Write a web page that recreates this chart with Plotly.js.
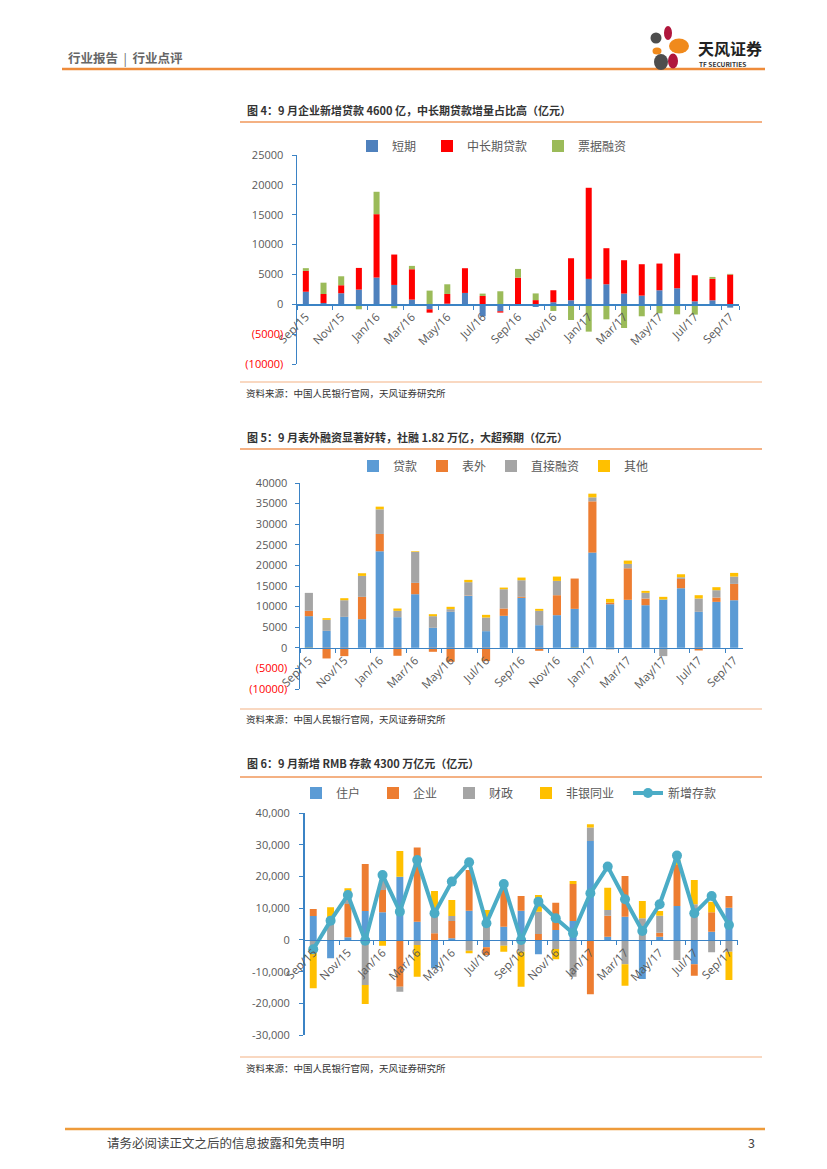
<!DOCTYPE html>
<html>
<head>
<meta charset="utf-8">
<script src="https://cdn.plot.ly/plotly-3.0.1.min.js"></script>
<style>
html,body{margin:0;padding:0;background:#fff;}
#page{width:827px;height:1169px;}
</style>
</head>
<body>
<div id="page"></div>
<script>
// ---------- DATA ----------
const months = ["Sep/15","Oct/15","Nov/15","Dec/15","Jan/16","Feb/16","Mar/16","Apr/16","May/16","Jun/16","Jul/16","Aug/16",
  "Sep/16","Oct/16","Nov/16","Dec/16","Jan/17","Feb/17","Mar/17","Apr/17","May/17","Jun/17","Jul/17","Aug/17","Sep/17"];
const monthTicks = months.filter((m, i) => i % 2 === 0);

// Figure 4: corporate new loans (亿元)
const loanShort = [2100, 220, 1850, 2460, 4470, 3240, 780, -840, 100, 1900, -2010, -1170, 50, -450, 340, 670, 4250, 3350, 1790, 1450, 2350, 2680, 500, 670, -560];
const loanMidLong = [3500, 1500, 1340, 3630, 10620, 5090, 5090, -560, 1630, 4140, 1400, -220, 4420, 700, 2010, 7040, 15260, 6040, 5590, 5260, 4470, 5820, 4360, 3580, 4980];
const loanBill = [450, 1900, 1500, -840, 3750, -670, 560, 2290, 1620, 0, 390, 2180, 1450, 1120, -1120, -2630, -4580, -2520, -3970, -2010, -1510, -1680, -1730, 330, 110];
const fig4Ticks = [25000, 20000, 15000, 10000, 5000, 0, -5000, -10000];
const fig4TickText = ["25000", "20000", "15000", "10000", "5000", "0", "(5000)", "(10000)"];

// Figure 5: total social financing (亿元)
const tsfLoans = [7680, 4120, 7510, 6950, 23430, 7430, 13010, 4850, 8730, 12600, 4040, 7760, 12120, 5490, 7920, 9450, 23110, 10580, 11640, 10340, 11720, 14460, 8730, 11150, 11550];
const tsfOffBS = [1290, -2590, -2020, 5410, 4200, -1940, 2750, -970, -3390, 100, -3230, 1780, 240, -730, 4850, 7360, 12440, 400, 7670, 1620, 0, 2260, -650, 1050, 3960];
const tsfDirect = [4360, 2670, 4040, 5090, 5980, 1540, 7510, 2830, 650, 3230, 3310, 4680, 4040, 3480, 3470, 0, 970, -400, 1050, 1370, -2020, 400, 3230, 1780, 1780];
const tsfOther = [-200, 400, 490, 650, 650, 570, 160, 480, 570, 560, 650, 400, 650, 480, 1050, -250, 890, 890, 810, 490, 650, 730, 810, 730, 890];
const fig5Ticks = [40000, 35000, 30000, 25000, 20000, 15000, 10000, 5000, 0, -5000, -10000];
const fig5TickText = ["40000", "35000", "30000", "25000", "20000", "15000", "10000", "5000", "0", "(5000)", "(10000)"];

// Figure 6: new RMB deposits (亿元)
const depHouse = [7580, -5790, 840, 9160, 8740, 20000, 5790, -8950, 530, 9270, -2320, 4210, 9270, -4530, 3160, 6000, 31270, 1050, 7370, -12320, 1050, 10740, -7690, 2630, 10210];
const depCorp = [2210, 0, 10530, 14850, 7050, -14740, 23380, 2110, 5470, 12850, -2420, 12110, 4630, 1900, 8630, 11690, -17160, 6630, 12850, 0, 1260, 12950, -3580, 6110, 3690];
const depFiscal = [-2630, 5260, 3690, -14220, 3160, -1580, -1580, 5790, 1580, -3370, 6840, -1790, -3690, 7050, -2840, -11580, 4210, 1790, -7690, 6840, 5370, -6320, 11270, -3900, -3690];
const depNonBank = [-12630, 5050, 1260, -6000, -1790, 8110, -10000, 7580, 5050, -840, 2630, -1900, -11050, 5260, -3260, 950, 1050, 7050, -6740, 5470, 1470, 1580, 7690, 3370, -8950];
const depTotal = [-2950, 6110, 14220, -210, 20530, 8950, 25270, 8420, 18430, 24530, 5270, 17690, 0, 12110, 6840, 2110, 14740, 23170, 12850, 2840, 11270, 26640, 8420, 13900, 4740];
const fig6Ticks = [40000, 30000, 20000, 10000, 0, -10000, -20000, -30000];
const fig6TickText = ["40,000", "30,000", "20,000", "10,000", "0", "-10,000", "-20,000", "-30,000"];

// ---------- LAYOUT HELPERS ----------
const W = 827, H = 1169;
const X = p => p / W;
const Y = p => 1 - p / H;
const AXIS = '#3B83C5';
const TICKFONT = {family: 'Open Sans, Liberation Sans, sans-serif', size: 11, color: '#595959'};
const XTICKFONT = {family: 'Open Sans, Liberation Sans, sans-serif', size: 11.5, color: '#595959'};
const LEGFONT = {family: 'Noto Sans CJK SC, sans-serif', size: 12, color: '#595959'};
const RED = '#FF0000';

function redNeg(texts, vals) {
  return texts.map((t, i) => vals[i] < 0 ? '<span style="color:' + RED + '">' + t + '</span>' : t);
}

function xAxis(domain, yDomain, yRange) {
  const pos = yDomain[0] + (0 - yRange[0]) / (yRange[1] - yRange[0]) * (yDomain[1] - yDomain[0]);
  return {
    type: 'category', domain: domain, anchor: 'free', position: pos, layer: 'above traces',
    range: [-0.5, months.length - 0.5],
    tickvals: monthTicks, ticktext: monthTicks, tickangle: -45,
    tickson: 'boundaries', ticks: 'outside', ticklen: 4, tickcolor: AXIS, tickwidth: 1,
    showline: true, linecolor: AXIS, linewidth: 1.5,
    showgrid: false, zeroline: false, tickfont: XTICKFONT, fixedrange: true
  };
}
function yAxis(domain, range, ticks, text, anchor, standoff) {
  return {
    domain: domain, range: range, anchor: anchor,
    tickvals: ticks, ticktext: text, ticks: 'outside', ticklen: 4, tickcolor: AXIS,
    ticklabelstandoff: standoff,
    showline: true, linecolor: AXIS, linewidth: 1.5,
    showgrid: false, zeroline: false, tickfont: TICKFONT, fixedrange: true
  };
}

const d1x = [X(297), X(739)], d1y = [Y(364), Y(155)], r1 = [-10000, 25000];
const d2x = [X(300), X(743)], d2y = [Y(689), Y(483)], r2 = [-10000, 40000];
const d3x = [X(304.6), X(737.6)], d3y = [Y(1035), Y(813.3)], r3 = [-30000, 40000];

function bar(name, y, color, xa, ya, leg, w, lw) {
  return {type: 'bar', name: name, x: months, y: y, xaxis: xa, yaxis: ya, legend: leg, legendwidth: lw,
    marker: {color: color, line: {width: 0}}, width: w, hoverinfo: 'skip'};
}

const traces = [
  bar('短期', loanShort, '#4F81BD', 'x', 'y', 'legend', 0.34, 30),
  bar('中长期贷款', loanMidLong, '#FF0000', 'x', 'y', 'legend', 0.34, 66),
  bar('票据融资', loanBill, '#9BBB59', 'x', 'y', 'legend', 0.34, 48),
  bar('贷款', tsfLoans, '#5B9BD5', 'x2', 'y2', 'legend2', 0.46, 24),
  bar('表外', tsfOffBS, '#ED7D31', 'x2', 'y2', 'legend2', 0.46, 24),
  bar('直接融资', tsfDirect, '#A5A5A5', 'x2', 'y2', 'legend2', 0.46, 48),
  bar('其他', tsfOther, '#FFC000', 'x2', 'y2', 'legend2', 0.46, 24),
  bar('住户', depHouse, '#5B9BD5', 'x3', 'y3', 'legend3', 0.4, 32),
  bar('企业', depCorp, '#ED7D31', 'x3', 'y3', 'legend3', 0.4, 31),
  bar('财政', depFiscal, '#A5A5A5', 'x3', 'y3', 'legend3', 0.4, 32),
  bar('非银同业', depNonBank, '#FFC000', 'x3', 'y3', 'legend3', 0.4, 57),
  {type: 'scatter', mode: 'lines+markers', name: '新增存款', x: months, y: depTotal, xaxis: 'x3', yaxis: 'y3',
    legend: 'legend3', line: {color: '#4BACC6', width: 4}, marker: {color: '#4BACC6', size: 10}, hoverinfo: 'skip'}
];

function hline(x0, x1, y, color, width) {
  return {type: 'line', xref: 'paper', yref: 'paper', x0: X(x0), x1: X(x1), y0: Y(y), y1: Y(y), line: {color: color, width: width}};
}
function dot(cx, cy, rx, ry, color) {
  return {type: 'circle', xref: 'paper', yref: 'paper', x0: X(cx - rx), x1: X(cx + rx), y0: Y(cy + ry), y1: Y(cy - ry),
    fillcolor: color, line: {width: 0}};
}
function txt(text, x, y, size, color, anchor) {
  return {text: text, xref: 'paper', yref: 'paper', x: X(x), y: Y(y), showarrow: false,
    xanchor: anchor || 'left', yanchor: 'middle', font: {family: 'Noto Sans CJK SC, sans-serif', size: size, color: color}};
}

const shapes = [
  hline(62, 765, 69, '#EE8B3A', 2.5),
  hline(240, 762, 122, '#F4B183', 2),
  hline(240, 762, 382, '#F4B183', 1.2),
  hline(240, 762, 449, '#F4B183', 2),
  hline(240, 762, 709, '#F4B183', 1.2),
  hline(240, 762, 777, '#F4B183', 2),
  hline(240, 762, 1057, '#F4B183', 1.2),
  hline(65, 765, 1129, '#EE9B3A', 2.5),
  // logo petals
  dot(656, 38, 5.5, 5.5, '#4D4D4D'),
  dot(668, 33, 4, 7, '#B0163C'),
  dot(679, 46, 10, 7.5, '#F08A1C'),
  dot(657, 51, 4.5, 3.5, '#F08A1C'),
  dot(661, 62, 7, 8, '#4D4D4D'),
  dot(673, 61, 5, 7.5, '#B0163C')
];

const annotations = [
  txt('<b>行业报告</b>  |  <b>行业点评</b>', 66, 57, 12.5, '#666666'),
  txt('<b>天风证券</b>', 696, 48, 16, '#222222'),
  txt('<b>TF SECURITIES</b>', 697, 63.5, 6.5, '#333333'),
  txt('<b>图 4：9 月企业新增贷款 4600 亿，中长期贷款增量占比高（亿元）</b>', 245, 110, 11, '#333333'),
  txt('资料来源：中国人民银行官网，天风证券研究所', 244, 393, 9.5, '#333333'),
  txt('<b>图 5：9 月表外融资显著好转，社融 1.82 万亿，大超预期（亿元）</b>', 245, 437, 11, '#333333'),
  txt('资料来源：中国人民银行官网，天风证券研究所', 244, 719, 9.5, '#333333'),
  txt('<b>图 6：9 月新增 RMB 存款 4300 万亿元（亿元）</b>', 245, 763, 11, '#333333'),
  txt('资料来源：中国人民银行官网，天风证券研究所', 244, 1068, 9.5, '#333333'),
  txt('请务必阅读正文之后的信息披露和免责申明', 105, 1142, 12.5, '#444444'),
  txt('3', 757, 1142, 12.5, '#444444', 'right')
];

function legendBox(x, y) {
  return {orientation: 'h', x: X(x), y: Y(y), xanchor: 'left', yanchor: 'middle', font: LEGFONT,
    bgcolor: 'rgba(0,0,0,0)', borderwidth: 0, itemclick: false, itemdoubleclick: false};
}

const layout = {
  width: W, height: H, margin: {l: 0, r: 0, t: 0, b: 0},
  paper_bgcolor: '#ffffff', plot_bgcolor: 'rgba(0,0,0,0)',
  barmode: 'relative', showlegend: true,
  xaxis: xAxis(d1x, d1y, r1),
  yaxis: yAxis(d1y, r1, fig4Ticks, redNeg(fig4TickText, fig4Ticks), 'x', 6),
  xaxis2: xAxis(d2x, d2y, r2),
  yaxis2: yAxis(d2y, r2, fig5Ticks, redNeg(fig5TickText, fig5Ticks), 'x2', 5),
  xaxis3: xAxis(d3x, d3y, r3),
  yaxis3: yAxis(d3y, r3, fig6Ticks, fig6TickText, 'x3', 7),
  legend: legendBox(352, 146),
  legend2: legendBox(353, 466),
  legend3: legendBox(296, 793),
  shapes: shapes,
  annotations: annotations
};

Plotly.newPlot('page', traces, layout, {staticPlot: true, displayModeBar: false});
</script>
</body>
</html>
